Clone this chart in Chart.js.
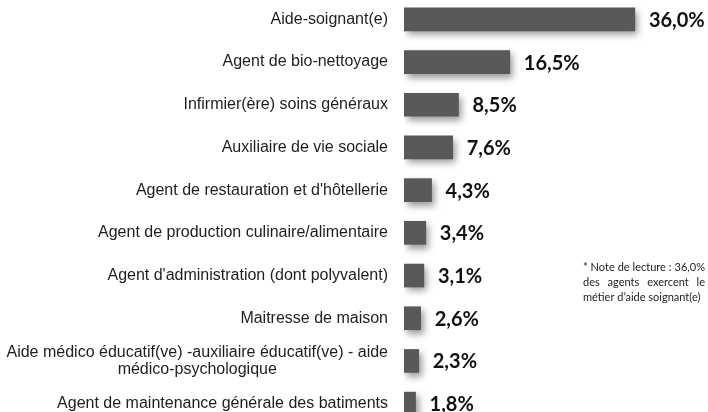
<!DOCTYPE html>
<html>
<head>
<meta charset="utf-8">
<script src="https://cdn.jsdelivr.net/npm/chart.js@4.4.0/dist/chart.umd.min.js"></script>
<style>
  html, body { margin: 0; padding: 0; background: #fff; overflow: hidden; }
  body { width: 708px; height: 412px; position: relative; }
  #myChart { position: absolute; left: 0; top: -2px; }
</style>
</head>
<body>
<canvas id="myChart" width="708" height="427"></canvas>
<script>
// Metiers des agents, part en %
const metiers = [
  ['Aide-soignant(e)'],
  ['Agent de bio-nettoyage'],
  ['Infirmier(ère) soins généraux'],
  ['Auxiliaire de vie sociale'],
  ["Agent de restauration et d'hôtellerie"],
  ['Agent de production culinaire/alimentaire'],
  ["Agent d'administration (dont polyvalent)"],
  ['Maitresse de maison'],
  ['Aide médico éducatif(ve) -auxiliaire éducatif(ve) - aide', 'médico-psychologique'],
  ['Agent de maintenance générale des batiments']
]
const parts = [36.0, 16.5, 8.5, 7.6, 4.3, 3.4, 3.1, 2.6, 2.3, 1.8]
const partLabels = ['36,0%', '16,5%', '8,5%', '7,6%', '4,3%', '3,4%', '3,1%', '2,6%', '2,3%', '1,8%']
const noteLines = ['* Note de lecture : 36,0%', 'des agents exercent le', 'métier d\u2019aide soignant(e)']

// shadow under the bars
const barShadow = {
  id: 'barShadow',
  beforeDatasetsDraw(chart) {
    const c = chart.ctx
    c.save()
    c.shadowColor = 'rgba(0,0,0,0.4)'
    c.shadowBlur = 7
    c.shadowOffsetX = 3
    c.shadowOffsetY = 4
  },
  afterDatasetsDraw(chart) {
    chart.ctx.restore()
  }
}

// category names on the left + values after the bars + reading note
const textLayer = {
  id: 'textLayer',
  afterDraw(chart) {
    const c = chart.ctx
    const yScale = chart.scales.y
    const xScale = chart.scales.x
    c.save()
    c.textBaseline = 'middle'

    // names, right aligned, multi lines centred on each other
    c.font = '16px "Liberation Sans", Arial, sans-serif'
    c.fillStyle = '#1e1e1e'
    metiers.forEach((lines, i) => {
      const y = yScale.getPixelForValue(i)
      const lh = 16.5
      const right = 388
      let maxW = 0
      lines.forEach(l => { maxW = Math.max(maxW, c.measureText(l).width) })
      c.textAlign = 'center'
      lines.forEach((l, k) => {
        const ly = y + (k - (lines.length - 1) / 2) * lh
        c.fillText(l, right - maxW / 2, ly)
      })
    })

    // values
    c.font = 'bold 20px Lato, "Open Sans", sans-serif'
    c.fillStyle = '#111'
    c.textAlign = 'left'
    parts.forEach((v, i) => {
      const x = xScale.getPixelForValue(v)
      const y = yScale.getPixelForValue(i)
      c.fillText(partLabels[i], x + 14, y + 1)
    })

    // note, justified except last line
    c.font = '11px Lato, "Open Sans", sans-serif'
    c.fillStyle = '#222'
    c.textAlign = 'left'
    const left = 583, width = 122
    noteLines.forEach((line, k) => {
      const y = 269 + k * 15
      if (k === noteLines.length - 1) {
        c.fillText(line, left, y)
        return
      }
      const words = line.split(' ')
      let wordsW = 0
      words.forEach(w => { wordsW += c.measureText(w).width })
      const gap = (width - wordsW) / (words.length - 1)
      let x = left
      words.forEach(w => {
        c.fillText(w, x, y)
        x += c.measureText(w).width + gap
      })
    })
    c.restore()
  }
}

const ctx = document.getElementById('myChart')
const myChart = new Chart(ctx, {
  type: 'bar',
  data: {
    labels: metiers,
    datasets: [{
      data: parts,
      backgroundColor: '#595959',
      borderWidth: 0,
      barThickness: 23
    }]
  },
  options: {
    indexAxis: 'y',
    responsive: false,
    animation: false,
    devicePixelRatio: 1,
    layout: {
      padding: { left: 404, right: 0, top: 0, bottom: 0 }
    },
    scales: {
      x: { display: false, min: 0, max: 47.4 },
      y: { display: false }
    },
    plugins: {
      legend: { display: false },
      tooltip: { enabled: false }
    }
  },
  plugins: [barShadow, textLayer]
})
</script>
</body>
</html>
